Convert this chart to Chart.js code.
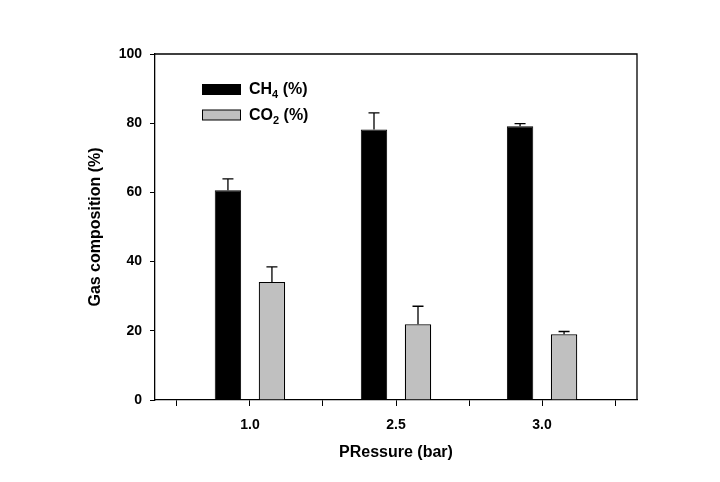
<!DOCTYPE html>
<html><head><meta charset="utf-8">
<script src="https://cdn.jsdelivr.net/npm/chart.js@4/dist/chart.umd.min.js"></script>
<style>html,body{margin:0;padding:0;background:#fff;} canvas{display:block;}</style>
</head><body>
<canvas id="c" width="720" height="482"></canvas>
<script>
// ---- data ----
const pressures = ['1.0', '2.5', '3.0'];
const ch4 = [60.6, 78.2, 79.1];
const ch4Err = [3.3, 4.8, 0.8];
const co2 = [34.1, 21.9, 19.0];
const co2Err = [4.4, 5.2, 0.8];
const yTicks = [0, 20, 40, 60, 80, 100];
const seriesNames = ['CH4 (%)', 'CO2 (%)'];
const errors = [ch4Err, co2Err];

const FONT = "'Liberation Sans', Arial, sans-serif";
Chart.defaults.font.family = FONT;
Chart.defaults.color = '#000';

const toXY = arr => arr.map((v, i) => ({ x: i + 1, y: v }));
const xTickValues = [];
pressures.forEach((p, i) => { xTickValues.push(i + 0.5, i + 1); });
xTickValues.push(pressures.length + 0.5);

const errorBars = {
  id: 'errorBars',
  afterDatasetsDraw(chart) {
    const ctx = chart.ctx, y = chart.scales.y;
    ctx.save();
    ctx.strokeStyle = '#000';
    ctx.lineWidth = 1.3;
    chart.data.datasets.forEach((ds, di) => {
      chart.getDatasetMeta(di).data.forEach((bar, i) => {
        const v = ds.data[i].y, e = errors[di][i];
        const top = y.getPixelForValue(v + e), base = y.getPixelForValue(v);
        ctx.beginPath();
        ctx.moveTo(bar.x, base); ctx.lineTo(bar.x, top);
        ctx.moveTo(bar.x - 5.5, top); ctx.lineTo(bar.x + 5.5, top);
        ctx.stroke();
      });
    });
    ctx.restore();
  }
};

const frame = {
  id: 'frame',
  afterDraw(chart) {
    const { ctx, chartArea: a } = chart;
    ctx.save();
    ctx.strokeStyle = '#000';
    ctx.lineWidth = 1.3;
    ctx.beginPath();
    ctx.moveTo(a.left, a.top); ctx.lineTo(a.right, a.top); ctx.lineTo(a.right, a.bottom);
    ctx.stroke();
    ctx.restore();
  }
};

function drawSubText(ctx, text, x, y, size, subSize) {
  // digits following a letter are drawn as subscripts
  const parts = text.match(/[A-Za-z]+|\d+|[^A-Za-z\d]+/g);
  let prevLetter = false;
  parts.forEach(p => {
    if (/^\d+$/.test(p) && prevLetter) {
      ctx.font = `bold ${subSize}px ${FONT}`;
      ctx.fillText(p, x, y + 4);
    } else {
      ctx.font = `bold ${size}px ${FONT}`;
      ctx.fillText(p, x, y);
    }
    x += ctx.measureText(p).width;
    prevLetter = /[A-Za-z]$/.test(p);
  });
}

const subLegend = {
  id: 'subLegend',
  afterDraw(chart) {
    const { ctx, chartArea: a } = chart;
    ctx.save();
    chart.data.datasets.forEach((ds, i) => {
      const bx = a.left + 47.5, by = a.top + 30.5 + i * 25.5;
      ctx.fillStyle = ds.backgroundColor;
      ctx.fillRect(bx, by, 38, 10);
      ctx.strokeStyle = '#000';
      ctx.lineWidth = 1;
      ctx.strokeRect(bx, by, 38, 10);
      ctx.fillStyle = '#000';
      ctx.textBaseline = 'alphabetic';
      drawSubText(ctx, ds.label, a.left + 94, by + 9.5, 16, 11);
    });
    ctx.restore();
  }
};

new Chart(document.getElementById('c'), {
  type: 'bar',
  data: {
    datasets: [
      { label: seriesNames[0], data: toXY(ch4), backgroundColor: '#000000', borderColor: '#000', borderWidth: 1 },
      { label: seriesNames[1], data: toXY(co2), backgroundColor: '#c0c0c0', borderColor: '#000', borderWidth: 1.2 }
    ]
  },
  options: {
    responsive: false,
    animation: false,
    devicePixelRatio: 1,
    categoryPercentage: 1.205,
    barPercentage: 0.6,
    layout: { padding: { top: 54, right: 83, left: 0, bottom: 0 } },
    plugins: { legend: { display: false }, tooltip: { enabled: false } },
    scales: {
      x: {
        type: 'linear', min: 0.35, max: pressures.length + 0.65, offset: false,
        afterBuildTicks: s => { s.ticks = xTickValues.map(v => ({ value: v })); },
        ticks: {
          callback: v => Number.isInteger(v) ? pressures[v - 1] : '',
          font: { size: 14, weight: 'bold' }, padding: 11, maxRotation: 0, autoSkip: false
        },
        grid: { offset: false, drawOnChartArea: false, drawTicks: true, tickLength: 6, color: '#000', lineWidth: 1 },
        border: { display: true, color: '#000', width: 1.3 },
        title: { display: true, text: 'PRessure (bar)', font: { size: 16, weight: 'bold' }, padding: { top: 0, bottom: 20 } },
        afterFit: s => { s.height = 82; }
      },
      y: {
        min: 0, max: 100,
        afterBuildTicks: s => { s.ticks = yTicks.map(v => ({ value: v })); },
        ticks: { font: { size: 14, weight: 'bold' }, padding: 8 },
        grid: { drawOnChartArea: false, drawTicks: true, tickLength: 5, color: '#000', lineWidth: 1 },
        border: { display: true, color: '#000', width: 1.3 },
        title: { display: true, text: 'Gas composition (%)', font: { size: 16, weight: 'bold' }, padding: { top: 86, bottom: 0 } },
        afterFit: s => { s.width = 155; }
      }
    }
  },
  plugins: [errorBars, frame, subLegend]
});
</script>
</body></html>
